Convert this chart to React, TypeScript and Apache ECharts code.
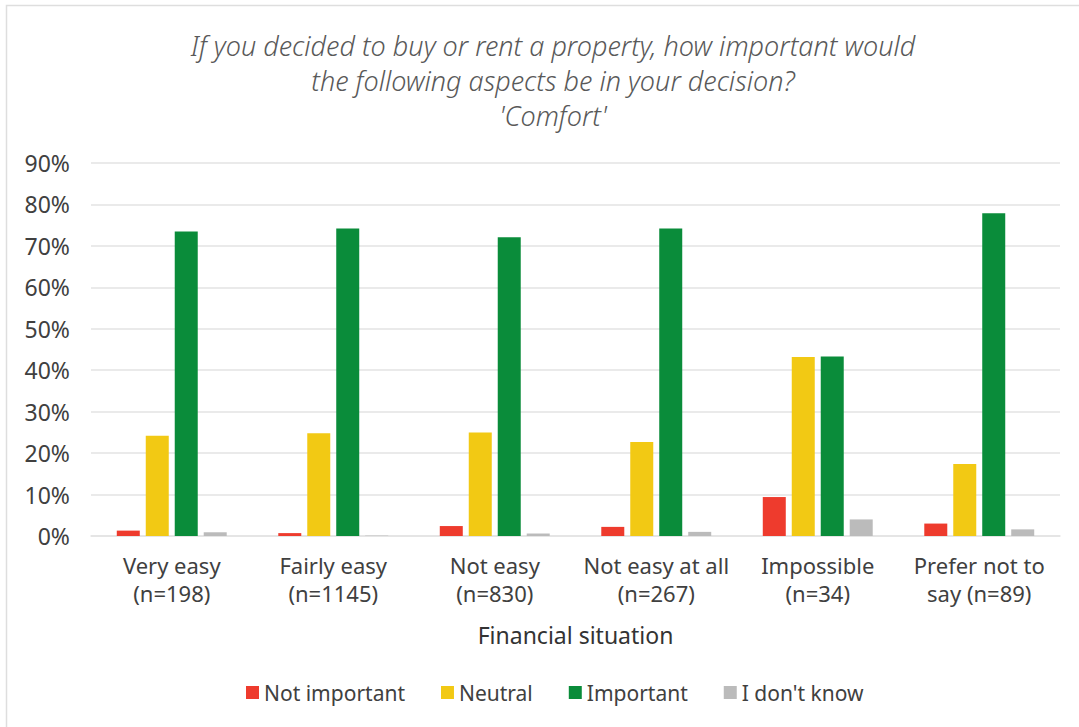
import React, { useEffect, useRef } from "react";
import * as echarts from "echarts";

const categories = [
  "Very easy\n(n=198)",
  "Fairly easy\n(n=1145)",
  "Not easy\n(n=830)",
  "Not easy at all\n(n=267)",
  "Impossible\n(n=34)",
  "Prefer not to\nsay (n=89)",
];
const seriesNames = ["Not important", "Neutral", "Important", "I don't know"];
const notImportant = [1.3, 0.7, 2.4, 2.2, 9.4, 3.0];
const neutral = [24.2, 24.8, 25.0, 22.7, 43.2, 17.4];
const important = [73.5, 74.2, 72.1, 74.2, 43.3, 77.9];
const dontKnow = [0.9, 0.1, 0.6, 1.0, 4.0, 1.6];
const colors = ["#EE3B2D", "#F2C914", "#0A8C3A", "#BBBBBB"];
const yTicks = { min: 0, max: 90, interval: 10 };

const FONT = "'Noto Sans', Roboto, sans-serif";

export default function App() {
  const ref = useRef<HTMLDivElement>(null);
  useEffect(() => {
    if (!ref.current) return;
    const chart = echarts.init(ref.current, null, { renderer: "svg" });
    const values = [notImportant, neutral, important, dontKnow];
    chart.setOption({
      animation: false,
      backgroundColor: "#ffffff",
      textStyle: { fontFamily: FONT },
      title: {
        text: "If you decided to buy or rent a property, how important would\nthe following aspects be in your decision?\n'Comfort'",
        left: 548,
        textAlign: "center",
        top: 23,
        textStyle: {
          fontFamily: FONT,
          fontSize: 27,
          fontStyle: "italic",
          fontWeight: 300,
          color: "#595959",
          lineHeight: 35,
        },
      },
      graphic: [
        {
          type: "rect",
          shape: { x: 6.5, y: 5.5, width: 1200, height: 900 },
          style: { fill: "none", stroke: "#dedede", lineWidth: 1.5 },
          silent: true,
        },
      ],
      legend: {
        bottom: 19,
        left: 241,
        itemWidth: 13,
        itemHeight: 13,
        itemGap: 36,
        icon: "rect",
        textStyle: { fontSize: 21, color: "#404040", fontFamily: FONT, padding: [0, 0, 0, 0] },
        data: seriesNames,
      },
      grid: { left: 91, right: 19, top: 163, bottom: 191, containLabel: false },
      xAxis: {
        type: "category",
        data: categories,
        name: "Financial situation",
        nameLocation: "middle",
        nameGap: 87,
        nameTextStyle: { fontSize: 23, color: "#333333", fontFamily: FONT },
        axisLine: { lineStyle: { color: "#e3e3e3", width: 1.5 } },
        axisTick: { show: false },
        axisLabel: {
          fontSize: 22,
          color: "#404040",
          fontFamily: FONT,
          lineHeight: 28,
          margin: 15,
          interval: 0,
        },
      },
      yAxis: {
        type: "value",
        min: yTicks.min,
        max: yTicks.max,
        interval: yTicks.interval,
        axisLabel: {
          formatter: "{value}%",
          fontSize: 23,
          color: "#404040",
          fontFamily: FONT,
          margin: 21,
        },
        splitLine: { lineStyle: { color: "#e3e3e3", width: 1.5 } },
        axisLine: { show: false },
        axisTick: { show: false },
      },
      series: seriesNames.map((name, i) => ({
        name,
        type: "bar",
        data: values[i],
        barWidth: 23,
        barGap: "26%",
        itemStyle: { color: colors[i] },
      })),
    });
    return () => chart.dispose();
  }, []);
  return (
    <div
      ref={ref}
      style={{ position: "absolute", left: 0, top: 0, width: 1079, height: 727 }}
    />
  );
}
